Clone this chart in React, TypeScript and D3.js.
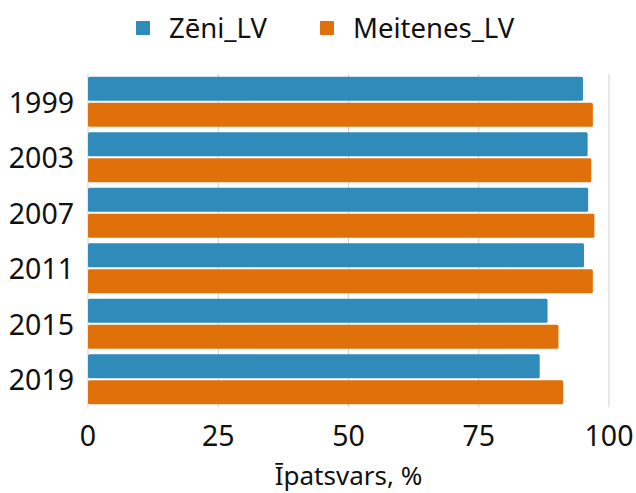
import React from 'react';
import * as d3 from 'd3';

const years = ['1999', '2003', '2007', '2011', '2015', '2019'];
const seriesNames = ['Zēni_LV', 'Meitenes_LV'];
const boys = [95.0, 95.9, 96.0, 95.2, 88.2, 86.7];
const girls = [96.9, 96.6, 97.2, 96.9, 90.3, 91.2];
const xTicks = [0, 25, 50, 75, 100];

const width = 636;
const height = 493;
const colors = ['#2e8bba', '#e0700a'];
const font = '"Noto Sans", sans-serif';

const x = d3.scaleLinear().domain([0, 100]).range([88, 609]);
const y = d3.scaleBand().domain(years).range([74, 407]).paddingInner(0.1).paddingOuter(0.05);
const y1 = d3.scaleBand().domain(seriesNames).range([0, y.bandwidth()]).paddingInner(0.07);

const App = () => {
  const values = [boys, girls];
  return (
    <svg width={width} height={height} style={{ position: 'absolute', left: 0, top: 0 }} fontFamily={font}>
      {xTicks.map(t => (
        <line key={t} x1={x(t)} x2={x(t)} y1={74} y2={407} stroke="#d0d0d0" strokeWidth={1} />
      ))}
      {years.map((yr, i) => (
        <g key={yr} transform={`translate(0,${y(yr)})`}>
          {seriesNames.map((s, j) => (
            <rect
              key={s}
              x={x(0)}
              y={y1(s)}
              width={x(values[j][i]) - x(0)}
              height={y1.bandwidth()}
              rx={1.5}
              fill={colors[j]}
            />
          ))}
          <text x={74} y={y.bandwidth() / 2 + 1} dy="0.35em" textAnchor="end" fontSize={28.5} fill="#111">
            {yr}
          </text>
        </g>
      ))}
      {xTicks.map(t => (
        <text key={t} x={x(t)} y={446} textAnchor="middle" fontSize={28.5} fill="#111">
          {t}
        </text>
      ))}
      <text x={(x(0) + x(100)) / 2} y={485} textAnchor="middle" fontSize={26} fill="#111">
        Īpatsvars, %
      </text>
      {seriesNames.map((s, j) => {
        const lx = [136, 320][j];
        return (
          <g key={s}>
            <rect x={lx} y={21} width={14} height={14} rx={1} fill={colors[j]} />
            <text x={lx + 33} y={38} fontSize={27.5} fill="#111">
              {s}
            </text>
          </g>
        );
      })}
    </svg>
  );
};

export default App;
